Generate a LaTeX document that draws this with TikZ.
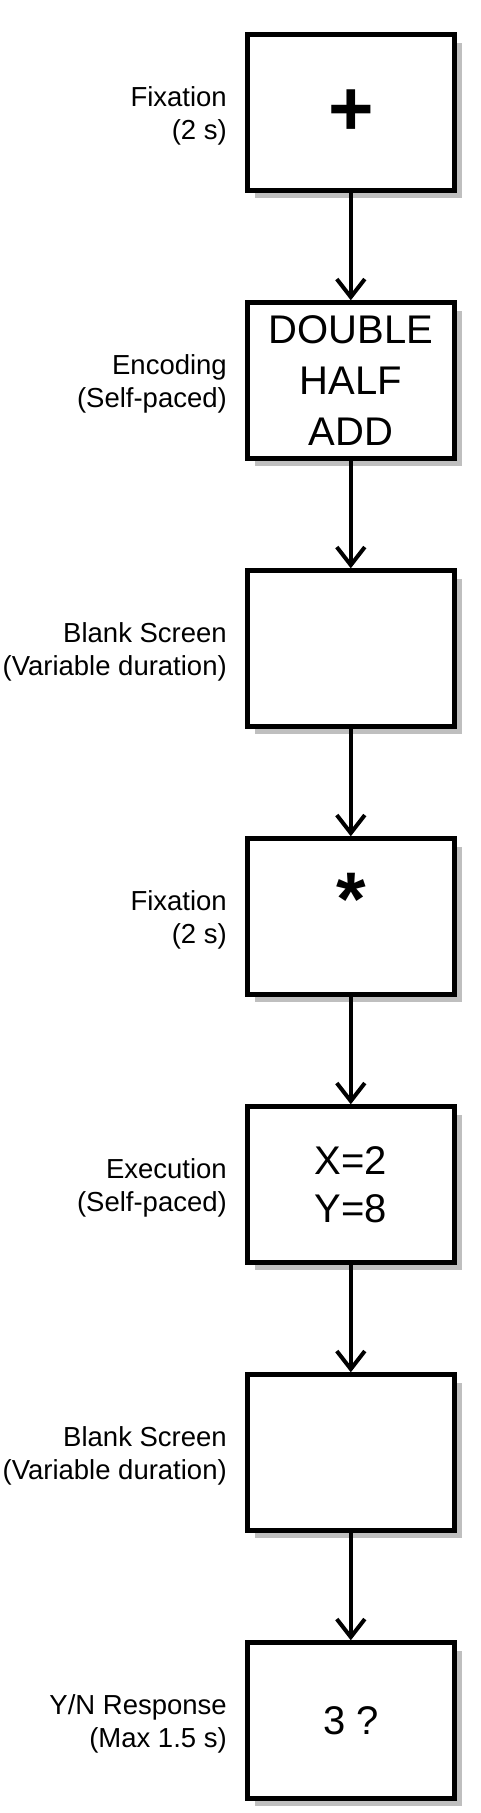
\documentclass[tikz,border=0pt]{standalone}
\usepackage{fontspec}
\setmainfont{Liberation Sans}
\usetikzlibrary{arrows.meta,shadows,calc}
\begin{document}
\begin{tikzpicture}[x=1pt,y=-1pt,
  frame/.style={draw=black, fill=white, line width=5pt, rectangle,
    minimum width=206.7pt, minimum height=155.4pt, inner sep=0pt,
    align=center, font=\fontsize{40}{51}\selectfont,
    drop shadow={shadow xshift=8pt, shadow yshift=-8pt, fill=black!25, opacity=1}},
  lbl/.style={anchor=east, inner sep=0pt, align=right, font=\fontsize{27.5}{33}\selectfont},
  symb/.style={inner sep=0pt, font=\fontsize{76}{76}\selectfont\bfseries},
  conn/.style={line width=4pt, -{Straight Barb[length=18pt, width=28pt, line width=4pt]}}
]
\useasboundingbox (0,0) rectangle (480,1813);
% boxes
\node[frame] (b1) at (350.8,112.5) {\fontsize{78}{78}\selectfont\bfseries +};
\node[frame] (b2) at (350.8,380.5) {DOUBLE\\HALF\\ADD};
\node[frame] (b3) at (350.8,648.5) {};
\node[frame] (b4) at (350.8,916.5) {};
\node[symb] (s4) at (351,899) {*};
\node[frame, font=\fontsize{40}{48}\selectfont] (b5) at (350.8,1184.5) {X=2\\Y=8};
\node[frame] (b6) at (350.8,1452.5) {};
\node[frame] (b7) at (350.8,1720.5) {3 ?};
% labels
\node[lbl] (l1) at (227,116) {Fixation\\(2 s)};
\node[lbl] (l2) at (227,384) {Encoding\\(Self-paced)};
\node[lbl] (l3) at (227,652) {Blank Screen\\(Variable duration)};
\node[lbl] (l4) at (227,920) {Fixation\\(2 s)};
\node[lbl] (l5) at (227,1188) {Execution\\(Self-paced)};
\node[lbl] (l6) at (227,1456) {Blank Screen\\(Variable duration)};
\node[lbl] (l7) at (227,1724) {Y/N Response\\(Max 1.5 s)};
% connectors
\draw[conn] (b1.south) -- (b2.north);
\draw[conn] (b2.south) -- (b3.north);
\draw[conn] (b3.south) -- (b4.north);
\draw[conn] (b4.south) -- (b5.north);
\draw[conn] (b5.south) -- (b6.north);
\draw[conn] (b6.south) -- (b7.north);
\end{tikzpicture}
\end{document}
